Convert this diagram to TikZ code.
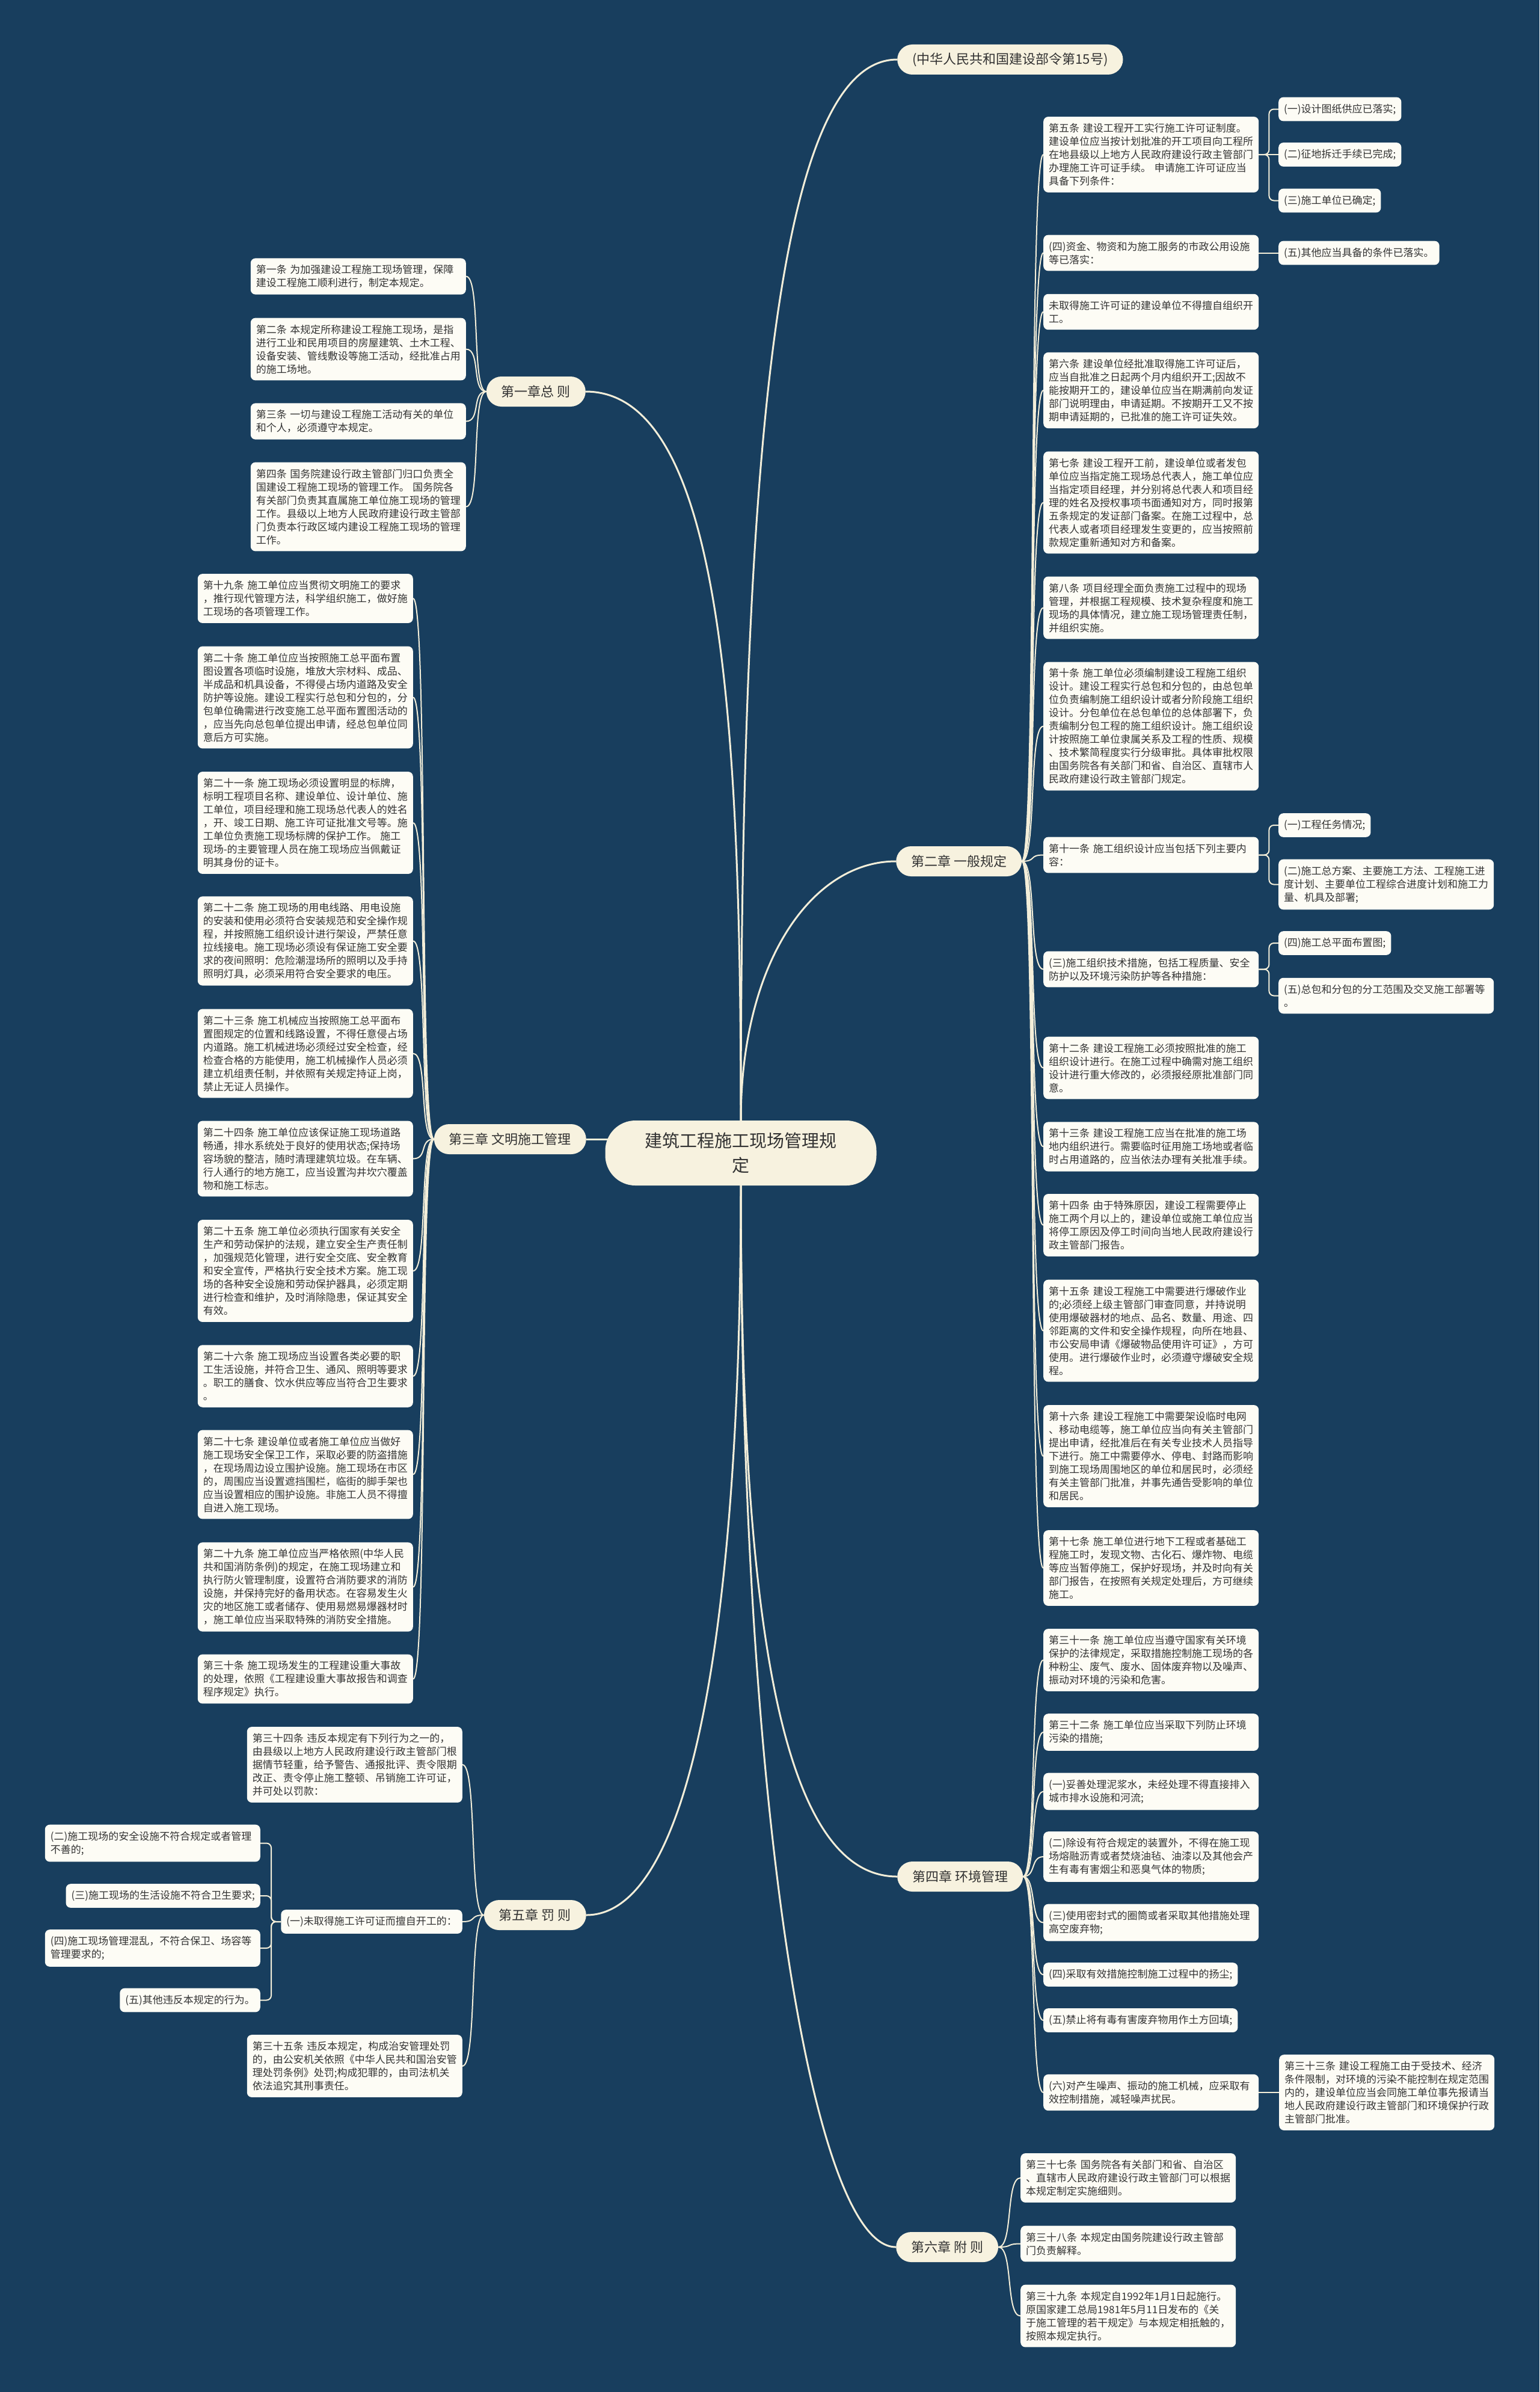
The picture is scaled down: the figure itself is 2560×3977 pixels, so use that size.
\documentclass[tikz,border=0pt]{standalone}
\usepackage{fontspec}
\setmainfont{Noto Sans CJK SC}
\usetikzlibrary{backgrounds}
\definecolor{bgBlue}{HTML}{183E5E}
\definecolor{boxFill}{HTML}{FDFCF5}
\definecolor{chapFill}{HTML}{F7F2DF}
\definecolor{lineCream}{HTML}{F3EED9}
\definecolor{textGray}{HTML}{333333}

\begin{document}
\begin{tikzpicture}[x = 1pt, y = -1pt]
\tikzstyle{rootStyle} = [rounded corners = 50pt, fill = chapFill, text = textGray, minimum width = 451pt, minimum height = 108pt, align = center, font = \fontsize{29}{41}\selectfont]
\tikzstyle{chapterStyle} = [rounded corners = 25pt, fill = chapFill, text = textGray, inner xsep = 25pt, inner ysep = 12pt, minimum height = 50pt, font = \fontsize{22}{26}\selectfont]
\tikzstyle{articleStyle} = [rounded corners = 8pt, fill = boxFill, text = textGray, text width = 340pt, inner xsep = 9pt, inner ysep = 11pt, align = left, font = \fontsize{17}{22}\selectfont]
\tikzstyle{itemStyle} = [rounded corners = 8pt, fill = boxFill, text = textGray, inner xsep = 9pt, inner ysep = 11pt, align = left, font = \fontsize{17}{22}\selectfont]
\tikzstyle{branchStyle} = [draw = lineCream, line width = 3pt]
\tikzstyle{linkStyle} = [draw = lineCream, line width = 2pt]
\tikzstyle{elbowStyle} = [draw = lineCream, line width = 2pt, rounded corners = 8pt]

\useasboundingbox (0,0) rectangle (2560,3977);
\begin{scope}[on background layer]
\fill[bgBlue] (0,0) rectangle (2560,3977);
\end{scope}

\node[rootStyle] (r) at (1232,1917) {建筑工程施工现场管理规\\定};

\node[chapterStyle, anchor = west, minimum width = 375pt] (c0) at (1492,99) {(中华人民共和国建设部令第15号)};
\node[chapterStyle, anchor = east] (c1) at (974,651) {第一章总~则};
\node[chapterStyle, anchor = west] (c2) at (1490,1432) {第二章~一般规定};
\node[chapterStyle, anchor = east] (c3) at (975,1894) {第三章~文明施工管理};
\node[chapterStyle, anchor = west] (c4) at (1492,3120) {第四章~环境管理};
\node[chapterStyle, anchor = east] (c5) at (975,3184) {第五章~罚~则};
\node[chapterStyle, anchor = west] (c6) at (1490,3736) {第六章~附~则};

\node[articleStyle, anchor = west] (a5) at (1735,257) {第五条~建设工程开工实行施工许可证制度。\\建设单位应当按计划批准的开工项目向工程所\\在地县级以上地方人民政府建设行政主管部门\\办理施工许可证手续。~申请施工许可证应当\\具备下列条件：};
\node[itemStyle, anchor = west] (s51) at (2126,181.5) {(一)设计图纸供应已落实;};
\node[itemStyle, anchor = west] (s52) at (2126,257) {(二)征地拆迁手续已完成;};
\node[itemStyle, anchor = west] (s53) at (2126,333.5) {(三)施工单位已确定;};
\node[articleStyle, anchor = west] (a5b) at (1735,420.5) {(四)资金、物资和为施工服务的市政公用设施\\等已落实：};
\node[itemStyle, anchor = west] (s54) at (2126,420.5) {(五)其他应当具备的条件已落实。};
\node[articleStyle, anchor = west] (a5c) at (1735,518.5) {未取得施工许可证的建设单位不得擅自组织开\\工。};
\node[articleStyle, anchor = west] (a6) at (1735,649) {第六条~建设单位经批准取得施工许可证后，\\应当自批准之日起两个月内组织开工;因故不\\能按期开工的，建设单位应当在期满前向发证\\部门说明理由，申请延期。不按期开工又不按\\期申请延期的，已批准的施工许可证失效。};
\node[articleStyle, anchor = west] (a7) at (1735,835.5) {第七条~建设工程开工前，建设单位或者发包\\单位应当指定施工现场总代表人，施工单位应\\当指定项目经理，并分别将总代表人和项目经\\理的姓名及授权事项书面通知对方，同时报第\\五条规定的发证部门备案。在施工过程中，总\\代表人或者项目经理发生变更的，应当按照前\\款规定重新通知对方和备案。};
\node[articleStyle, anchor = west] (a8) at (1735,1010.5) {第八条~项目经理全面负责施工过程中的现场\\管理，并根据工程规模、技术复杂程度和施工\\现场的具体情况，建立施工现场管理责任制，\\并组织实施。};
\node[articleStyle, anchor = west] (a10) at (1735,1207.5) {第十条~施工单位必须编制建设工程施工组织\\设计。建设工程实行总包和分包的，由总包单\\位负责编制施工组织设计或者分阶段施工组织\\设计。分包单位在总包单位的总体部署下，负\\责编制分包工程的施工组织设计。施工组织设\\计按照施工单位隶属关系及工程的性质、规模\\、技术繁简程度实行分级审批。具体审批权限\\由国务院各有关部门和省、自治区、直辖市人\\民政府建设行政主管部门规定。};
\node[articleStyle, anchor = west] (a11) at (1735,1421.5) {第十一条~施工组织设计应当包括下列主要内\\容：};
\node[itemStyle, anchor = west] (s111) at (2126,1372) {(一)工程任务情况;};
\node[articleStyle, anchor = west] (s112) at (2126,1470.5) {(二)施工总方案、主要施工方法、工程施工进\\度计划、主要单位工程综合进度计划和施工力\\量、机具及部署;};
\node[articleStyle, anchor = west] (a11b) at (1735,1611.5) {(三)施工组织技术措施，包括工程质量、安全\\防护以及环境污染防护等各种措施：};
\node[itemStyle, anchor = west] (s113) at (2126,1568) {(四)施工总平面布置图;};
\node[articleStyle, anchor = west] (s114) at (2126,1655.5) {(五)总包和分包的分工范围及交叉施工部署等\\。};
\node[articleStyle, anchor = west] (a12) at (1735,1775.5) {第十二条~建设工程施工必须按照批准的施工\\组织设计进行。在施工过程中确需对施工组织\\设计进行重大修改的，必须报经原批准部门同\\意。};
\node[articleStyle, anchor = west] (a13) at (1735,1906.5) {第十三条~建设工程施工应当在批准的施工场\\地内组织进行。需要临时征用施工场地或者临\\时占用道路的，应当依法办理有关批准手续。};
\node[articleStyle, anchor = west] (a14) at (1735,2037) {第十四条~由于特殊原因，建设工程需要停止\\施工两个月以上的，建设单位或施工单位应当\\将停工原因及停工时间向当地人民政府建设行\\政主管部门报告。};
\node[articleStyle, anchor = west] (a15) at (1735,2212.5) {第十五条~建设工程施工中需要进行爆破作业\\的;必须经上级主管部门审查同意，并持说明\\使用爆破器材的地点、品名、数量、用途、四\\邻距离的文件和安全操作规程，向所在地县、\\市公安局申请《爆破物品使用许可证》，方可\\使用。进行爆破作业时，必须遵守爆破安全规\\程。};
\node[articleStyle, anchor = west] (a16) at (1735,2421) {第十六条~建设工程施工中需要架设临时电网\\、移动电缆等，施工单位应当向有关主管部门\\提出申请，经批准后在有关专业技术人员指导\\下进行。施工中需要停水、停电、封路而影响\\到施工现场周围地区的单位和居民时，必须经\\有关主管部门批准，并事先通告受影响的单位\\和居民。};
\node[articleStyle, anchor = west] (a17) at (1735,2607) {第十七条~施工单位进行地下工程或者基础工\\程施工时，发现文物、古化石、爆炸物、电缆\\等应当暂停施工，保护好现场，并及时向有关\\部门报告，在按照有关规定处理后，方可继续\\施工。};

\node[articleStyle, anchor = west] (e31) at (1735,2760) {第三十一条~施工单位应当遵守国家有关环境\\保护的法律规定，采取措施控制施工现场的各\\种粉尘、废气、废水、固体废弃物以及噪声、\\振动对环境的污染和危害。};
\node[articleStyle, anchor = west] (e32) at (1735,2880) {第三十二条~施工单位应当采取下列防止环境\\污染的措施;};
\node[articleStyle, anchor = west] (e1) at (1735,2978.5) {(一)妥善处理泥浆水，未经处理不得直接排入\\城市排水设施和河流;};
\node[articleStyle, anchor = west] (e2) at (1735,3087) {(二)除设有符合规定的装置外，不得在施工现\\场熔融沥青或者焚烧油毡、油漆以及其他会产\\生有毒有害烟尘和恶臭气体的物质;};
\node[articleStyle, anchor = west] (e3) at (1735,3196.5) {(三)使用密封式的圈筒或者采取其他措施处理\\高空废弃物;};
\node[itemStyle, anchor = west] (e4) at (1735,3283) {(四)采取有效措施控制施工过程中的扬尘;};
\node[itemStyle, anchor = west] (e5) at (1735,3359) {(五)禁止将有毒有害废弃物用作土方回填;};
\node[articleStyle, anchor = west] (e6) at (1735,3479) {(六)对产生噪声、振动的施工机械，应采取有\\效控制措施，减轻噪声扰民。};
\node[articleStyle, anchor = west] (e33) at (2127,3479) {第三十三条~建设工程施工由于受技术、经济\\条件限制，对环境的污染不能控制在规定范围\\内的，建设单位应当会同施工单位事先报请当\\地人民政府建设行政主管部门和环境保护行政\\主管部门批准。};

\node[articleStyle, anchor = west] (f37) at (1697,3621) {第三十七条~国务院各有关部门和省、自治区\\、直辖市人民政府建设行政主管部门可以根据\\本规定制定实施细则。};
\node[articleStyle, anchor = west] (f38) at (1697,3730.5) {第三十八条~本规定由国务院建设行政主管部\\门负责解释。};
\node[articleStyle, anchor = west] (f39) at (1697,3850.5) {第三十九条~本规定自1992年1月1日起施行。\\原国家建工总局1981年5月11日发布的《关\\于施工管理的若干规定》与本规定相抵触的，\\按照本规定执行。};

\node[articleStyle, anchor = east] (g1) at (775,459.5) {第一条~为加强建设工程施工现场管理，保障\\建设工程施工顺利进行，制定本规定。};
\node[articleStyle, anchor = east] (g2) at (775,580.5) {第二条~本规定所称建设工程施工现场，是指\\进行工业和民用项目的房屋建筑、土木工程、\\设备安装、管线敷设等施工活动，经批准占用\\的施工场地。};
\node[articleStyle, anchor = east] (g3) at (775,700.5) {第三条~一切与建设工程施工活动有关的单位\\和个人，必须遵守本规定。};
\node[articleStyle, anchor = east] (g4) at (775,842.5) {第四条~国务院建设行政主管部门归口负责全\\国建设工程施工现场的管理工作。~国务院各\\有关部门负责其直属施工单位施工现场的管理\\工作。县级以上地方人民政府建设行政主管部\\门负责本行政区域内建设工程施工现场的管理\\工作。};

\node[articleStyle, anchor = east] (m19) at (687,995) {第十九条~施工单位应当贯彻文明施工的要求\\，推行现代管理方法，科学组织施工，做好施\\工现场的各项管理工作。};
\node[articleStyle, anchor = east] (m20) at (687,1159.5) {第二十条~施工单位应当按照施工总平面布置\\图设置各项临时设施，堆放大宗材料、成品、\\半成品和机具设备，不得侵占场内道路及安全\\防护等设施。建设工程实行总包和分包的，分\\包单位确需进行改变施工总平面布置图活动的\\，应当先向总包单位提出申请，经总包单位同\\意后方可实施。};
\node[articleStyle, anchor = east] (m21) at (687,1368) {第二十一条~施工现场必须设置明显的标牌，\\标明工程项目名称、建设单位、设计单位、施\\工单位，项目经理和施工现场总代表人的姓名\\，开、竣工日期、施工许可证批准文号等。施\\工单位负责施工现场标牌的保护工作。~施工\\现场-的主要管理人员在施工现场应当佩戴证\\明其身份的证卡。};
\node[articleStyle, anchor = east] (m22) at (687,1564.5) {第二十二条~施工现场的用电线路、用电设施\\的安装和使用必须符合安装规范和安全操作规\\程，并按照施工组织设计进行架设，严禁任意\\拉线接电。施工现场必须设有保证施工安全要\\求的夜间照明：危险潮湿场所的照明以及手持\\照明灯具，必须采用符合安全要求的电压。};
\node[articleStyle, anchor = east] (m23) at (687,1751.5) {第二十三条~施工机械应当按照施工总平面布\\置图规定的位置和线路设置，不得任意侵占场\\内道路。施工机械进场必须经过安全检查，经\\检查合格的方能使用，施工机械操作人员必须\\建立机组责任制，并依照有关规定持证上岗，\\禁止无证人员操作。};
\node[articleStyle, anchor = east] (m24) at (687,1926.5) {第二十四条~施工单位应该保证施工现场道路\\畅通，排水系统处于良好的使用状态;保持场\\容场貌的整洁，随时清理建筑垃圾。在车辆、\\行人通行的地方施工，应当设置沟井坎穴覆盖\\物和施工标志。};
\node[articleStyle, anchor = east] (m25) at (687,2113) {第二十五条~施工单位必须执行国家有关安全\\生产和劳动保护的法规，建立安全生产责任制\\，加强规范化管理，进行安全交底、安全教育\\和安全宣传，严格执行安全技术方案。施工现\\场的各种安全设施和劳动保护器具，必须定期\\进行检查和维护，及时消除隐患，保证其安全\\有效。};
\node[articleStyle, anchor = east] (m26) at (687,2288) {第二十六条~施工现场应当设置各类必要的职\\工生活设施，并符合卫生、通风、照明等要求\\。职工的膳食、饮水供应等应当符合卫生要求\\。};
\node[articleStyle, anchor = east] (m27) at (687,2451.5) {第二十七条~建设单位或者施工单位应当做好\\施工现场安全保卫工作，采取必要的防盗措施\\，在现场周边设立围护设施。施工现场在市区\\的，周围应当设置遮挡围栏，临街的脚手架也\\应当设置相应的围护设施。非施工人员不得擅\\自进入施工现场。};
\node[articleStyle, anchor = east] (m29) at (687,2638.5) {第二十九条~施工单位应当严格依照(中华人民\\共和国消防条例)的规定，在施工现场建立和\\执行防火管理制度，设置符合消防要求的消防\\设施，并保持完好的备用状态。在容易发生火\\灾的地区施工或者储存、使用易燃易爆器材时\\，施工单位应当采取特殊的消防安全措施。};
\node[articleStyle, anchor = east] (m30) at (687,2791.5) {第三十条~施工现场发生的工程建设重大事故\\的处理，依照《工程建设重大事故报告和调查\\程序规定》执行。};

\node[articleStyle, anchor = east] (p34) at (769,2934) {第三十四条~违反本规定有下列行为之一的，\\由县级以上地方人民政府建设行政主管部门根\\据情节轻重，给予警告、通报批评、责令限期\\改正、责令停止施工整顿、吊销施工许可证，\\并可处以罚款：};
\node[itemStyle, anchor = east] (p1) at (769,3195) {(一)未取得施工许可证而擅自开工的：};
\node[articleStyle, anchor = east] (p35) at (769,3435) {第三十五条~违反本规定，构成治安管理处罚\\的，由公安机关依照《中华人民共和国治安管\\理处罚条例》处罚;构成犯罪的，由司法机关\\依法追究其刑事责任。};
\node[articleStyle, anchor = east] (q2) at (433,3064.5) {(二)施工现场的安全设施不符合规定或者管理\\不善的;};
\node[itemStyle, anchor = east] (q3) at (433,3152) {(三)施工现场的生活设施不符合卫生要求;};
\node[articleStyle, anchor = east] (q4) at (433,3239) {(四)施工现场管理混乱，不符合保卫、场容等\\管理要求的;};
\node[itemStyle, anchor = east] (q5) at (433,3325.5) {(五)其他违反本规定的行为。};

\begin{scope}[on background layer]
\draw[branchStyle] (r.north) .. controls +(0,-1163) and +(-192,0) .. (c0.west);
\draw[branchStyle] (r.north) .. controls +(0,-263) and +(-140,0) .. (c2.west);
\draw[branchStyle] (c1.east) .. controls +(226,0) and +(0,-663) .. (r.north);
\draw[branchStyle] (c3.east) -- (r.center |- c3.east);
\draw[branchStyle] (r.south) .. controls +(0,729) and +(-192,0) .. (c4.west);
\draw[branchStyle] (r.south) .. controls +(0,729) and +(175,0) .. (c5.east);
\draw[branchStyle] (r.south) .. controls +(0,1029) and +(-140,0) .. (c6.west);

\draw[linkStyle] (c2.east) .. controls +(25,0) and +(-25,0) .. (a5.west);
\draw[linkStyle] (c2.east) .. controls +(25,0) and +(-25,0) .. (a5b.west);
\draw[linkStyle] (c2.east) .. controls +(25,0) and +(-25,0) .. (a5c.west);
\draw[linkStyle] (c2.east) .. controls +(25,0) and +(-25,0) .. (a6.west);
\draw[linkStyle] (c2.east) .. controls +(25,0) and +(-25,0) .. (a7.west);
\draw[linkStyle] (c2.east) .. controls +(25,0) and +(-25,0) .. (a8.west);
\draw[linkStyle] (c2.east) .. controls +(25,0) and +(-25,0) .. (a10.west);
\draw[linkStyle] (c2.east) .. controls +(25,0) and +(-25,0) .. (a11.west);
\draw[linkStyle] (c2.east) .. controls +(25,0) and +(-25,0) .. (a11b.west);
\draw[linkStyle] (c2.east) .. controls +(25,0) and +(-25,0) .. (a12.west);
\draw[linkStyle] (c2.east) .. controls +(25,0) and +(-25,0) .. (a13.west);
\draw[linkStyle] (c2.east) .. controls +(25,0) and +(-25,0) .. (a14.west);
\draw[linkStyle] (c2.east) .. controls +(25,0) and +(-25,0) .. (a15.west);
\draw[linkStyle] (c2.east) .. controls +(25,0) and +(-25,0) .. (a16.west);
\draw[linkStyle] (c2.east) .. controls +(25,0) and +(-25,0) .. (a17.west);
\draw[elbowStyle] (a5.east) -- ++(17,0) |- (s51.west);
\draw[elbowStyle] (a5.east) -- (s52.west);
\draw[elbowStyle] (a5.east) -- ++(17,0) |- (s53.west);
\draw[elbowStyle] (a5b.east) -- (s54.west);
\draw[elbowStyle] (a11.east) -- ++(17,0) |- (s111.west);
\draw[elbowStyle] (a11.east) -- ++(17,0) |- (s112.west);
\draw[elbowStyle] (a11b.east) -- ++(17,0) |- (s113.west);
\draw[elbowStyle] (a11b.east) -- ++(17,0) |- (s114.west);

\draw[linkStyle] (c4.east) .. controls +(22,0) and +(-22,0) .. (e31.west);
\draw[linkStyle] (c4.east) .. controls +(22,0) and +(-22,0) .. (e32.west);
\draw[linkStyle] (c4.east) .. controls +(22,0) and +(-22,0) .. (e1.west);
\draw[linkStyle] (c4.east) .. controls +(22,0) and +(-22,0) .. (e2.west);
\draw[linkStyle] (c4.east) .. controls +(22,0) and +(-22,0) .. (e3.west);
\draw[linkStyle] (c4.east) .. controls +(22,0) and +(-22,0) .. (e4.west);
\draw[linkStyle] (c4.east) .. controls +(22,0) and +(-22,0) .. (e5.west);
\draw[linkStyle] (c4.east) .. controls +(22,0) and +(-22,0) .. (e6.west);
\draw[linkStyle] (e6.east) -- (e33.west);

\draw[linkStyle] (c6.east) .. controls +(25,0) and +(-25,0) .. (f37.west);
\draw[linkStyle] (c6.east) .. controls +(25,0) and +(-25,0) .. (f38.west);
\draw[linkStyle] (c6.east) .. controls +(25,0) and +(-25,0) .. (f39.west);

\draw[linkStyle] (c1.west) .. controls +(-25,0) and +(25,0) .. (g1.east);
\draw[linkStyle] (c1.west) .. controls +(-25,0) and +(25,0) .. (g2.east);
\draw[linkStyle] (c1.west) .. controls +(-25,0) and +(25,0) .. (g3.east);
\draw[linkStyle] (c1.west) .. controls +(-25,0) and +(25,0) .. (g4.east);

\draw[linkStyle] (c3.west) .. controls +(-25,0) and +(25,0) .. (m19.east);
\draw[linkStyle] (c3.west) .. controls +(-25,0) and +(25,0) .. (m20.east);
\draw[linkStyle] (c3.west) .. controls +(-25,0) and +(25,0) .. (m21.east);
\draw[linkStyle] (c3.west) .. controls +(-25,0) and +(25,0) .. (m22.east);
\draw[linkStyle] (c3.west) .. controls +(-25,0) and +(25,0) .. (m23.east);
\draw[linkStyle] (c3.west) .. controls +(-25,0) and +(25,0) .. (m24.east);
\draw[linkStyle] (c3.west) .. controls +(-25,0) and +(25,0) .. (m25.east);
\draw[linkStyle] (c3.west) .. controls +(-25,0) and +(25,0) .. (m26.east);
\draw[linkStyle] (c3.west) .. controls +(-25,0) and +(25,0) .. (m27.east);
\draw[linkStyle] (c3.west) .. controls +(-25,0) and +(25,0) .. (m29.east);
\draw[linkStyle] (c3.west) .. controls +(-25,0) and +(25,0) .. (m30.east);

\draw[linkStyle] (c5.west) .. controls +(-25,0) and +(25,0) .. (p34.east);
\draw[linkStyle] (c5.west) .. controls +(-25,0) and +(25,0) .. (p1.east);
\draw[linkStyle] (c5.west) .. controls +(-25,0) and +(25,0) .. (p35.east);
\draw[elbowStyle] (p1.west) -- ++(-16,0) |- (q2.east);
\draw[elbowStyle] (p1.west) -- ++(-16,0) |- (q3.east);
\draw[elbowStyle] (p1.west) -- ++(-16,0) |- (q4.east);
\draw[elbowStyle] (p1.west) -- ++(-16,0) |- (q5.east);
\end{scope}
\end{tikzpicture}
\end{document}
